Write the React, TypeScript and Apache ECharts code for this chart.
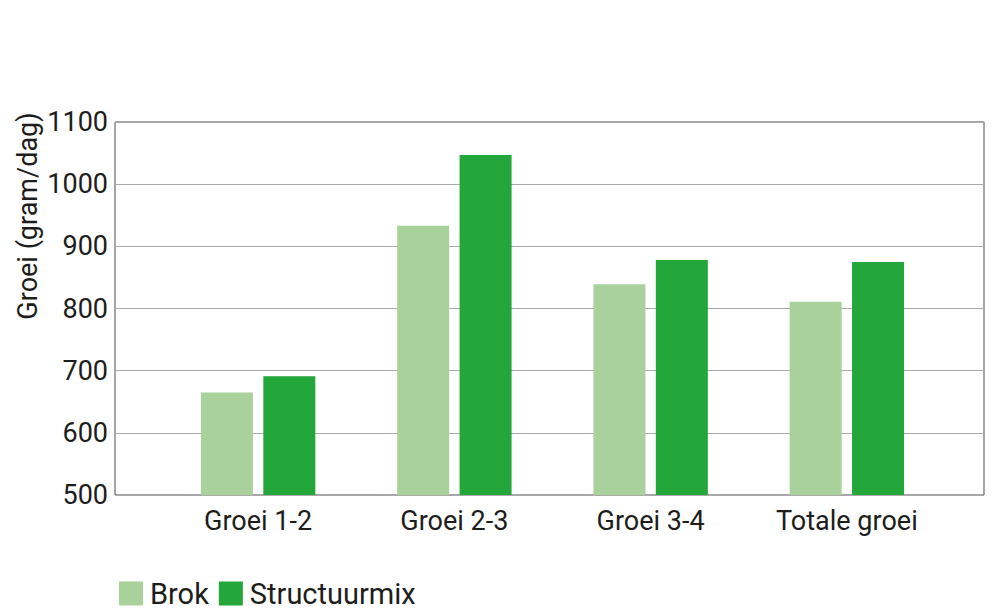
import React, { useEffect, useRef } from "react";
import * as echarts from "echarts";

const categories = ["Groei 1-2", "Groei 2-3", "Groei 3-4", "Totale groei"];
const brok = [665, 933, 839, 811];
const structuurmix = [691, 1047, 878, 875];
const seriesNames = ["Brok", "Structuurmix"];
const yAxisTitle = "Groei (gram/dag)";

const FONT = "Roboto, 'Noto Sans', sans-serif";
const TXT = "#1d1d1b";

export default function App() {
  const ref = useRef<HTMLDivElement>(null);
  useEffect(() => {
    if (!ref.current) return;
    const chart = echarts.init(ref.current, undefined, { renderer: "svg" });
    chart.setOption({
      animation: false,
      backgroundColor: "#ffffff",
      textStyle: { fontFamily: FONT },
      grid: [
        { left: 115, top: 122, right: 15, bottom: 119, show: true, borderColor: "#4a4a4a", borderWidth: 1, backgroundColor: "transparent" },
        { left: 160, top: 122, right: 54, bottom: 119 },
      ],
      xAxis: [
        { type: "value", gridIndex: 0, show: false, min: 0, max: 1 },
        {
          type: "category",
          gridIndex: 1,
          data: categories,
          axisLine: { show: false },
          axisTick: { show: false },
          axisLabel: { color: TXT, fontSize: 27, fontFamily: FONT, margin: 12 },
        },
      ],
      yAxis: [
        {
          type: "value",
          gridIndex: 0,
          min: 500,
          max: 1100,
          interval: 100,
          axisLine: { show: false },
          axisTick: { show: false },
          axisLabel: { color: TXT, fontSize: 27, fontFamily: FONT, margin: 7, formatter: (v: number) => String(v) },
          splitLine: { show: true, lineStyle: { color: "#aaaaaa", width: 1 } },
        },
        { type: "value", gridIndex: 1, min: 500, max: 1100, interval: 100, show: false, splitLine: { show: false } },
      ],
      legend: {
        left: 114,
        top: 574,
        icon: "rect",
        itemWidth: 24,
        itemHeight: 24,
        itemGap: 10,
        data: seriesNames,
        textStyle: { color: TXT, fontSize: 29, fontFamily: FONT, padding: [0, 0, 0, 2] },
      },
      graphic: [
        {
          type: "text",
          x: 28,
          y: 216,
          rotation: Math.PI / 2,
          style: {
            text: yAxisTitle,
            fill: TXT,
            font: `27px ${FONT}`,
            textAlign: "center",
            textVerticalAlign: "middle",
          },
        },
      ],
      series: [
        {
          name: seriesNames[0],
          type: "bar",
          xAxisIndex: 1,
          yAxisIndex: 1,
          data: brok,
          barWidth: 52,
          barGap: "20%",
          itemStyle: { color: "#a9d19c" },
        },
        {
          name: seriesNames[1],
          type: "bar",
          xAxisIndex: 1,
          yAxisIndex: 1,
          data: structuurmix,
          barWidth: 52,
          barGap: "20%",
          itemStyle: { color: "#23a63a" },
        },
      ],
    });
    return () => chart.dispose();
  }, []);
  return <div ref={ref} style={{ position: "absolute", left: 0, top: 0, width: 999, height: 614 }} />;
}
